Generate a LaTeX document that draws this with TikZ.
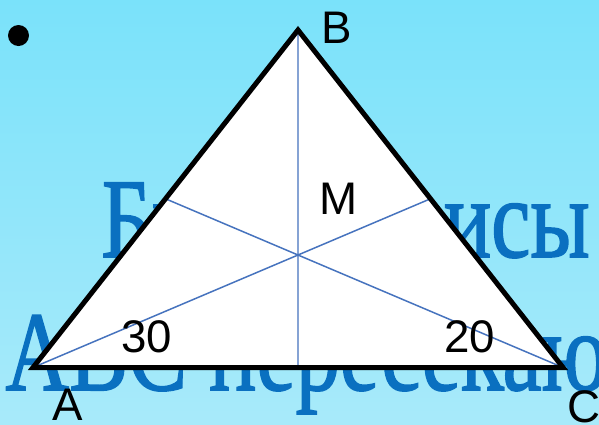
\documentclass[tikz,border=0pt]{standalone}
\usepackage{fontspec}
\setmainfont{Liberation Sans}
\newfontfamily\titlefont[FakeBold=1.5]{Liberation Serif}
\usepackage{graphicx}
\usetikzlibrary{calc}
\definecolor{skytop}{RGB}{122,226,250}
\definecolor{skybot}{RGB}{168,234,250}
\definecolor{titleblue}{RGB}{10,112,192}
\definecolor{medblue}{RGB}{70,115,190}
\tikzset{
  lbl/.style={inner sep=0pt,font=\fontsize{26}{30}\selectfont},
  ttl/.style={inner sep=0pt,anchor=base west,text=titleblue,font=\titlefont\fontsize{64.5}{70}\selectfont},
  median/.style={medblue,line width=0.85pt}
}
\begin{document}
\begin{tikzpicture}[x=0.02cm,y=-0.02cm]
\useasboundingbox (0,0) rectangle (599,424);
\clip (0,0) rectangle (599,424);
\shade[top color=skytop,bottom color=skybot] (0,0) rectangle (599,424);
\fill (18.5,35.5) circle (0.21cm);
\node[ttl] (t1) at (101,257) {\scalebox{0.78}[1]{Биссектрисы}};
\node[ttl] (t2) at (5,390) {\scalebox{0.78}[1]{АВС пересекаются}};
\coordinate (A) at (33,367.5); \coordinate (B) at (298,30); \coordinate (C) at (563,367.5);
\fill[white] (A)--(B)--(C)--cycle;
\draw[median] (A)--($(B)!0.5!(C)$) (C)--($(A)!0.5!(B)$) (B)--($(A)!0.5!(C)$);
\draw[line width=2.85pt] (A)--(B)--(C)--cycle;
\foreach \n/\t/\x/\y in {lB/B/336.5/27.5,lM/M/339/198.5,l30/30/147/337,l20/20/470/337,lA/A/67.5/404.5,lC/C/583.5/406.5}{\node[lbl] (\n) at (\x,\y) {\t};}
\end{tikzpicture}
\end{document}
